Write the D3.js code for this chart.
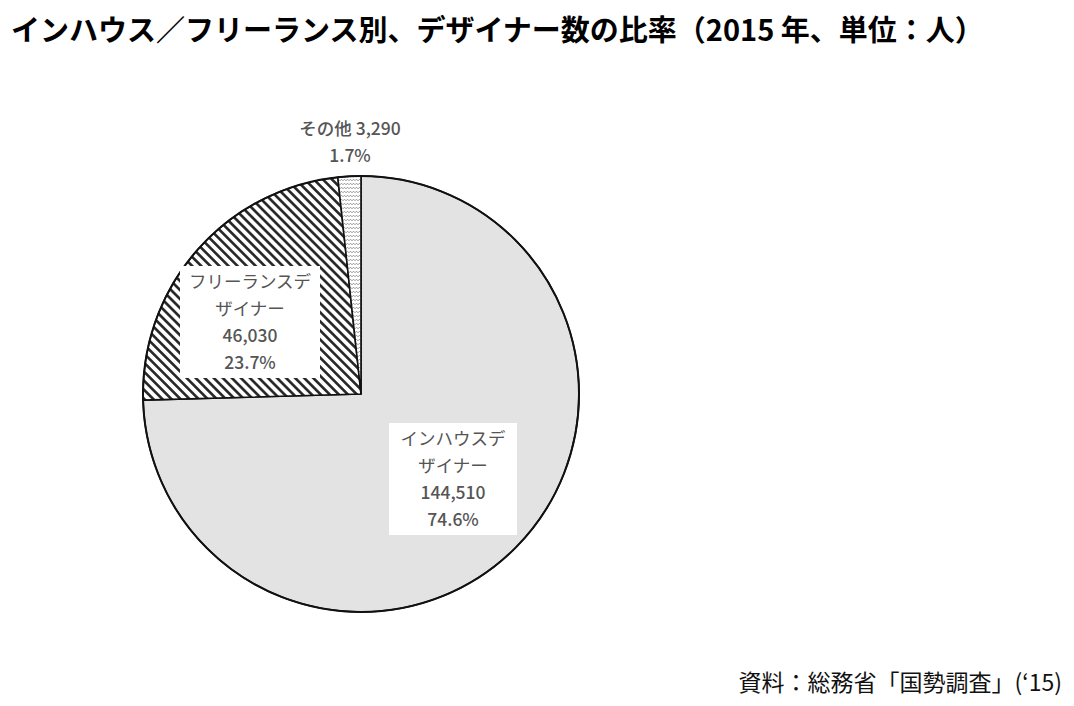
<!DOCTYPE html>
<html><head><meta charset="utf-8">
<script src="https://cdn.jsdelivr.net/npm/d3@7"></script>
<style>
html,body{margin:0;padding:0;background:#fff;}
svg{display:block;}
text{font-family:"Noto Sans CJK JP","Noto Sans",sans-serif;}
</style></head>
<body>
<svg id="chart" width="1074" height="706"></svg>
<script>
// ---- data ----
const categories = ["インハウスデザイナー", "フリーランスデザイナー", "その他"];
const labelLines = [["インハウスデ", "ザイナー"], ["フリーランスデ", "ザイナー"], ["その他"]];
const values = [144510, 46030, 3290];
const percents = ["74.6%", "23.7%", "1.7%"];
const titleText = "インハウス／フリーランス別、デザイナー数の比率（2015 年、単位：人）";
const sourceText = "資料：総務省「国勢調査」(‘15)";

// ---- layout ----
const W = 1074, H = 706;
const cx = 361, cy = 394, R = 218;
const svg = d3.select("#chart");

const defs = svg.append("defs");
// hatch for freelance
const hatch = defs.append("pattern").attr("id","hatch").attr("patternUnits","userSpaceOnUse")
  .attr("width",6.4).attr("height",6.4).attr("patternTransform","rotate(45)");
hatch.append("rect").attr("width",6.4).attr("height",6.4).attr("fill","#fff");
hatch.append("line").attr("x1",0).attr("y1",3.2).attr("x2",6.4).attr("y2",3.2)
  .attr("stroke","#222").attr("stroke-width",2.6);
// wave for other
const wave = defs.append("pattern").attr("id","wave").attr("patternUnits","userSpaceOnUse")
  .attr("width",6).attr("height",4);
wave.append("rect").attr("width",6).attr("height",4).attr("fill","#fff");
wave.append("path").attr("d","M0,2.8 L1.5,1.2 L3,2.8 L4.5,1.2 L6,2.8")
  .attr("fill","none").attr("stroke","#888").attr("stroke-width",0.9);

const fills = ["#e3e3e3", "url(#hatch)", "url(#wave)"];

const pie = d3.pie().sort(null).value(d => d);
const arcs = pie(values);
const arc = d3.arc().innerRadius(0).outerRadius(R);

const g = svg.append("g").attr("transform", `translate(${cx},${cy})`);
g.selectAll("path.slice").data(arcs).join("path")
  .attr("class","slice")
  .attr("d", arc)
  .attr("fill", (d,i) => fills[i])
  .attr("stroke", "#111").attr("stroke-width", 1.6).attr("stroke-linejoin","round");
g.append("circle").attr("r", R).attr("fill","none").attr("stroke","#111").attr("stroke-width",2);

const fmt = d3.format(",");
// label anchors (relative to pie centre) and box widths
const labelPos = [{x: 92, y: 85, box: true, w: 128}, {x: -111, y: -72, box: true, w: 140}, {x: -11, y: -252, box: false}];
const lineH = 27, fs = 17.5;

arcs.forEach((a, i) => {
  const p = labelPos[i];
  let lines;
  if (i === 2) lines = [labelLines[i][0] + " " + fmt(values[i]), percents[i]];
  else lines = [...labelLines[i], fmt(values[i]), percents[i]];
  const lg = g.append("g").attr("transform", `translate(${p.x},${p.y})`);
  const n = lines.length;
  if (p.box) {
    const bh = 112;
    lg.append("rect").attr("x", -p.w/2).attr("y", -bh/2).attr("width", p.w).attr("height", bh).attr("fill","#fff");
  }
  lines.forEach((t, k) => {
    lg.append("text").attr("x", 0).attr("y", (k - (n-1)/2) * lineH)
      .attr("dy","0.36em").attr("text-anchor","middle")
      .attr("font-size", fs).attr("fill", "#555")
      .attr("font-weight", k >= (n-2) ? 500 : 400)
      .text(t);
  });
});

svg.append("text").attr("x", 11).attr("y", 41).attr("font-size", 29).attr("font-weight", 700)
  .attr("fill","#000").text(titleText);
svg.append("text").attr("x", 1062).attr("y", 691).attr("text-anchor","end").attr("font-size", 23)
  .attr("fill","#111").text(sourceText);
</script>
</body></html>
